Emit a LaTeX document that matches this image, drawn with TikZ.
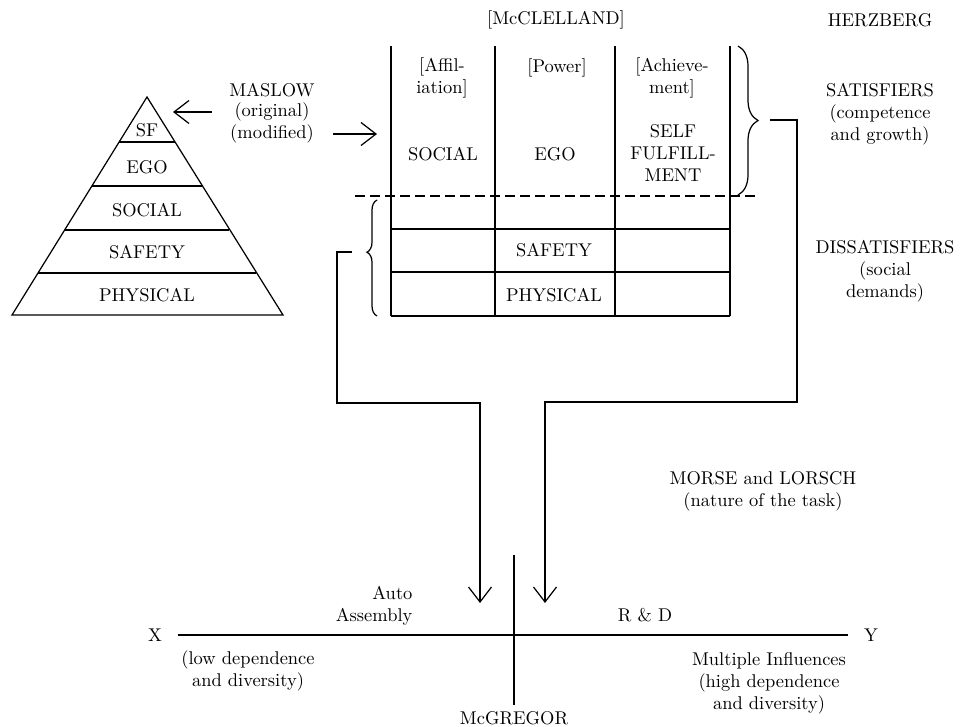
\documentclass[tikz,border=0pt]{standalone}
\usetikzlibrary{arrows.meta,decorations.pathreplacing}
\begin{document}
\begin{tikzpicture}[x=0.2mm,y=-0.2mm,line width=0.7pt,
    txt/.style={font=\fontsize{10.5}{12.5}\selectfont,align=center,inner sep=0pt},
    barb/.style={-{Straight Barb[length=3mm,width=4.6mm]}},
    cut/.style={dash pattern=on 2mm off 1mm},
    curly/.style={decorate,decoration={brace,#1}}]
      \useasboundingbox (0,0) rectangle (964,727);
      \pgfmathsetmacro{\slope}{135/218}
      \draw (147,97) -- (12,315) -- (283,315) -- cycle;
      \foreach \yy in {142,186,230,273}
        \draw ({147-\slope*(\yy-97)},\yy) -- ({147+\slope*(\yy-97)},\yy);
      \node[txt] (psf) at (147,130) {SF};
      \node[txt] (pego) at (147,167) {EGO};
      \node[txt] (psoc) at (147,210) {SOCIAL};
      \node[txt] (psaf) at (147,252) {SAFETY};
      \node[txt] (pphy) at (147,295) {PHYSICAL};
      \node[txt] (maslow) at (272,90) {MASLOW};
      \node[txt] (orig) at (272,112) {(original)};
      \node[txt] (modif) at (272,134) {(modified)};
      \coordinate (sfside) at (173,112);
      \coordinate (tabside) at (377,134);
      \draw[barb] ([xshift=-4.4mm]orig.west) -- (sfside);
      \draw[barb] ([xshift=3.8mm]modif.east) -- (tabside);
      \foreach \xx in {391,495,615,730}
        \draw (\xx,46) -- (\xx,316);
      \foreach \yy in {229,272,316}
        \draw (391,\yy) -- (730,\yy);
      \draw[cut] (355,196) -- (757,196);
      \node[txt] (mcc) at (556,20) {[McCLELLAND]};
      \node[txt] (herz) at (880,20) {HERZBERG};
      \node[txt] (affil) at (442,78) {[Affil-\\iation]};
      \node[txt] (power) at (557,68) {[Power]};
      \node[txt] (achv) at (672,78) {[Achieve-\\ment]};
      \node[txt] (tsoc) at (443,154) {SOCIAL};
      \node[txt] (tego) at (555,154) {EGO};
      \node[txt] (tself) at (673,153) {SELF\\FULFILL-\\MENT};
      \node[txt] (tsaf) at (554,250) {SAFETY};
      \node[txt] (tphy) at (554,295) {PHYSICAL};
      \node[txt] (satis) at (880,114) {SATISFIERS\\(competence\\and growth)};
      \node[txt] (dissat) at (885,271) {DISSATISFIERS\\(social\\demands)};
      \draw[curly={amplitude=4mm}] (738,46) -- (738,195);
      \draw[curly={amplitude=2mm,aspect=0.55}] (377,316) -- (377,200);
      \coordinate (sattip) at (770,120);
      \coordinate (distip) at (352,252);
      \coordinate (autoend) at (480,603);
      \coordinate (rdend) at (545,603);
      \draw[barb] (distip) -| (337,403) -| (autoend);
      \draw[barb] (sattip) -| (797,402) -| (rdend);
      \node[txt] (morse) at (763,491) {MORSE and LORSCH\\(nature of the task)};
      \node[txt] (xpole) at (155,635) {X};
      \node[txt] (ypole) at (871,635) {Y};
      \draw[shorten <=3mm,shorten >=3mm] (xpole) -- (ypole);
      \node[txt,align=right,anchor=north east] (auto) at (413,586) {Auto\\Assembly};
      \node[txt] (rd) at (645,615) {R \& D};
      \node[txt] (lowdep) at (248,671) {(low dependence\\and diversity)};
      \node[txt] (multi) at (769,683) {Multiple Influences\\(high dependence\\and diversity)};
      \node[txt] (mcg) at (514,718) {McGREGOR};
      \coordinate (mcgtop) at (514,555);
      \draw (mcgtop) -- ([yshift=1.2mm]mcg.north);
    \end{tikzpicture}
\end{document}
